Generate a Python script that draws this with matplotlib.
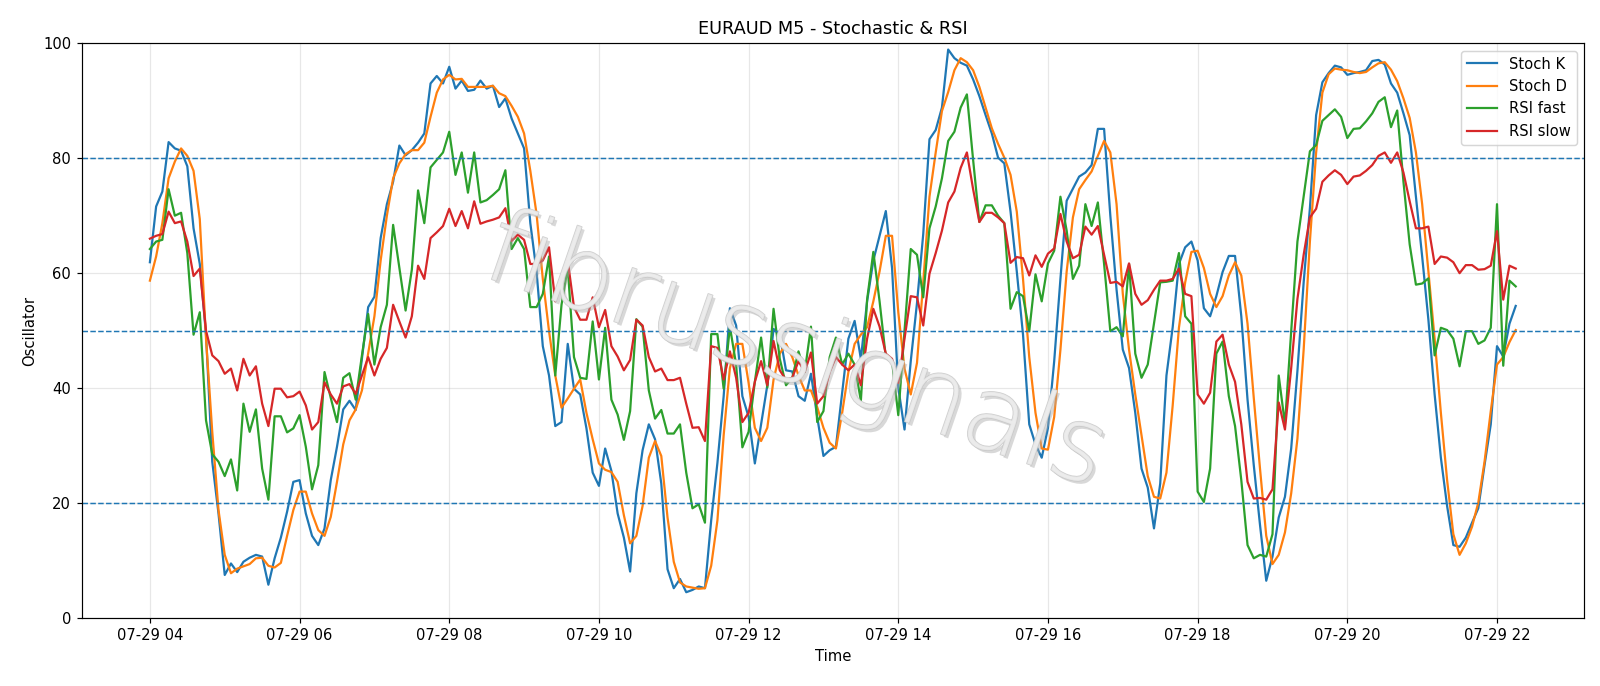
import numpy as np
import pandas as pd
import matplotlib
matplotlib.use("Agg")
import matplotlib.pyplot as plt
import matplotlib.dates as mdates
import matplotlib.patheffects as pe

# 5-minute bars, 07-29 04:00 -> 22:15
times = pd.date_range("2024-07-29 04:00", periods=220, freq="5min")

stoch_k = [
    61.9, 71.6, 74.2, 82.8, 81.7, 81.3, 78.6, 67.8, 61.6, 49.3,
    27.2, 18.2, 7.5, 9.5, 8.0, 9.8, 10.5, 11.0, 10.7, 5.8,
    10.4, 14.0, 18.5, 23.7, 24.0, 18.2, 14.3, 12.7, 15.6, 24.0,
    29.8, 36.3, 37.8, 36.2, 45.1, 54.1, 55.9, 66.1, 72.0, 75.9,
    82.2, 80.5, 81.4, 82.7, 84.3, 93.0, 94.3, 93.0, 95.9, 92.1,
    93.5, 91.7, 91.9, 93.5, 92.1, 92.6, 88.9, 90.4, 86.9, 84.3,
    81.7, 68.7, 60.3, 47.3, 42.2, 33.4, 34.1, 47.7, 39.9, 38.9,
    33.0, 25.3, 23.0, 29.5, 25.6, 18.2, 14.0, 8.1, 21.7, 29.2,
    33.7, 31.1, 23.4, 8.5, 5.2, 6.8, 4.5, 4.9, 5.5, 5.2,
    17.0, 27.0, 38.6, 53.9, 50.9, 38.6, 35.0, 26.9, 33.7, 40.5,
    50.3, 49.3, 43.1, 42.9, 38.6, 37.8, 42.5, 35.0, 28.2, 29.2,
    29.8, 39.2, 48.6, 51.7, 45.1, 55.1, 62.2, 66.5, 70.8, 60.9,
    40.1, 32.8, 44.7, 54.8, 66.8, 83.3, 84.9, 88.8, 98.9, 97.4,
    96.6, 96.1, 93.7, 90.8, 87.5, 84.3, 80.1, 79.1, 70.7, 60.3,
    49.3, 33.7, 30.2, 27.9, 33.1, 44.7, 59.0, 72.6, 74.7, 76.8,
    77.5, 78.8, 85.1, 85.1, 70.0, 57.1, 46.7, 43.5, 35.7, 26.0,
    22.7, 15.6, 23.4, 42.2, 50.6, 61.6, 64.5, 65.5, 62.2, 53.9,
    52.5, 56.0, 60.2, 63.0, 63.0, 52.5, 38.0, 26.6, 16.2, 6.5,
    10.7, 17.5, 21.1, 29.5, 43.0, 58.4, 71.3, 87.5, 93.2, 94.8,
    96.1, 95.8, 94.5, 94.8, 95.0, 95.3, 96.9, 97.1, 96.3, 93.0,
    91.4, 87.8, 84.0, 73.3, 62.9, 51.9, 38.9, 27.9, 19.5, 12.7,
    12.4, 14.0, 16.6, 19.1, 26.6, 33.7, 47.3, 45.5, 51.2, 54.3,
]

stoch_d = [
    58.7, 62.9, 68.7, 76.5, 79.4, 81.7, 80.4, 77.8, 69.4, 48.6,
    32.4, 18.8, 11.0, 7.8, 8.6, 9.0, 9.4, 10.4, 10.5, 9.1,
    8.8, 9.6, 14.3, 18.8, 22.0, 22.0, 18.2, 15.3, 14.3, 17.6,
    23.7, 30.2, 34.4, 36.3, 39.6, 46.0, 52.5, 62.2, 70.0, 76.5,
    79.1, 80.7, 81.4, 81.4, 82.7, 87.2, 91.4, 93.7, 94.5, 93.7,
    93.8, 92.4, 92.4, 92.4, 92.4, 92.6, 91.3, 90.8, 89.1, 87.2,
    84.3, 77.8, 70.3, 59.0, 49.9, 42.2, 36.6, 38.2, 39.9, 41.5,
    35.7, 31.1, 26.9, 25.8, 25.4, 23.7, 17.9, 13.0, 14.3, 19.5,
    27.9, 30.8, 28.2, 17.5, 9.8, 6.2, 5.5, 5.3, 5.1, 5.2,
    9.1, 17.0, 31.8, 43.5, 47.7, 47.7, 40.9, 33.1, 30.8, 33.1,
    41.5, 46.0, 47.7, 45.4, 42.2, 39.6, 39.6, 36.7, 33.1, 30.5,
    29.5, 35.7, 42.8, 47.7, 49.3, 50.6, 55.1, 60.3, 66.5, 66.5,
    53.2, 43.4, 38.9, 44.4, 58.4, 73.3, 81.0, 88.2, 91.5, 95.3,
    97.4, 96.7, 95.3, 92.4, 88.8, 85.2, 82.5, 80.1, 77.1, 70.7,
    59.0, 45.4, 35.7, 29.5, 29.3, 35.0, 46.7, 60.3, 69.7, 74.6,
    76.2, 77.7, 80.4, 83.0, 81.0, 72.0, 56.4, 46.7, 38.9, 31.8,
    24.7, 21.1, 20.8, 25.3, 37.0, 50.5, 58.4, 63.7, 63.9, 60.9,
    56.4, 54.1, 56.0, 59.6, 61.9, 59.6, 51.2, 38.3, 26.0, 14.3,
    9.4, 11.0, 14.9, 21.7, 31.2, 46.7, 65.5, 81.0, 91.4, 94.6,
    95.6, 95.4, 95.3, 95.0, 94.8, 95.0, 95.8, 96.5, 96.7, 95.4,
    93.4, 90.4, 87.0, 81.0, 72.0, 60.3, 48.6, 35.7, 24.0, 14.6,
    11.0, 13.0, 15.9, 20.1, 27.2, 36.0, 44.1, 45.4, 48.0, 50.1,
]

rsi_fast = [
    64.2, 65.5, 65.8, 74.6, 70.0, 70.5, 63.5, 49.3, 53.2, 34.4,
    28.5, 27.2, 24.7, 27.6, 22.2, 37.3, 32.4, 36.3, 26.0, 20.6,
    35.1, 35.1, 32.3, 33.0, 35.3, 29.8, 22.4, 26.6, 42.8, 38.3,
    34.1, 41.8, 42.6, 38.0, 45.7, 52.9, 44.1, 50.6, 54.5, 68.4,
    60.9, 53.5, 60.6, 74.4, 68.7, 78.4, 79.7, 81.0, 84.6, 77.1,
    81.0, 74.0, 81.0, 72.3, 72.7, 73.6, 74.6, 77.9, 64.2, 66.1,
    64.2, 54.1, 54.1, 56.4, 62.9, 42.2, 54.5, 60.9, 45.4, 41.8,
    41.6, 51.6, 41.5, 50.5, 38.0, 35.4, 31.0, 36.0, 52.0, 50.7,
    39.6, 34.7, 36.2, 32.1, 32.1, 33.7, 25.3, 19.1, 19.8, 16.6,
    49.4, 49.4, 39.9, 50.7, 44.1, 29.7, 32.4, 41.1, 48.8, 40.1,
    53.8, 45.1, 40.5, 41.8, 46.4, 42.8, 50.7, 34.1, 36.0, 45.4,
    48.8, 44.1, 46.0, 44.1, 37.8, 55.4, 63.7, 55.1, 45.4, 44.7,
    35.3, 50.0, 64.2, 63.2, 55.8, 67.8, 71.6, 76.5, 83.0, 84.6,
    88.8, 91.1, 79.7, 68.9, 71.8, 71.8, 70.0, 68.7, 53.8, 56.7,
    56.0, 49.9, 59.8, 55.1, 61.7, 63.9, 73.3, 67.4, 59.0, 61.3,
    72.0, 68.2, 72.3, 61.6, 49.9, 50.6, 49.0, 61.6, 46.0, 41.8,
    44.1, 51.2, 58.4, 58.5, 58.7, 63.5, 52.5, 51.2, 22.0, 20.2,
    26.0, 46.0, 48.1, 38.6, 33.4, 24.0, 12.7, 10.4, 11.0, 10.7,
    14.6, 42.2, 33.7, 49.9, 65.5, 73.3, 81.2, 82.3, 86.5, 87.5,
    88.5, 87.2, 83.5, 85.1, 85.2, 86.4, 87.8, 89.8, 90.6, 85.4,
    88.3, 75.9, 65.0, 58.0, 58.2, 59.1, 45.7, 50.5, 50.1, 48.6,
    43.8, 49.9, 49.9, 47.7, 48.3, 50.5, 72.0, 43.9, 58.7, 57.7,
]

rsi_slow = [
    66.0, 66.5, 66.8, 70.7, 68.7, 69.0, 65.5, 59.5, 60.8, 50.0,
    45.7, 44.7, 42.5, 43.4, 39.6, 45.1, 42.2, 43.8, 37.3, 33.4,
    39.9, 39.9, 38.4, 38.6, 39.4, 37.0, 32.8, 34.1, 41.0, 38.9,
    37.3, 40.3, 40.7, 39.0, 42.2, 45.4, 42.2, 45.1, 47.0, 54.5,
    51.6, 48.8, 52.5, 61.3, 59.0, 66.1, 67.1, 68.2, 71.2, 68.2,
    70.8, 67.8, 72.5, 68.6, 69.0, 69.3, 69.7, 71.3, 65.6, 66.7,
    65.8, 61.6, 61.6, 62.2, 64.5, 55.1, 59.0, 62.2, 54.1, 51.9,
    51.9, 55.8, 50.6, 53.6, 47.3, 45.5, 43.1, 44.9, 51.9, 50.9,
    45.4, 42.9, 43.4, 41.4, 41.4, 41.8, 37.3, 33.1, 33.2, 30.8,
    47.3, 47.0, 41.5, 46.4, 41.8, 34.1, 35.7, 41.1, 44.7, 40.5,
    48.2, 43.1, 41.4, 41.8, 44.7, 42.8, 46.2, 37.3, 38.6, 42.8,
    45.4, 44.1, 43.1, 44.1, 40.5, 48.6, 53.8, 50.7, 46.0, 45.1,
    40.9, 48.6, 56.0, 55.8, 50.9, 59.9, 63.5, 67.4, 72.3, 74.2,
    78.3, 81.0, 74.6, 68.9, 70.5, 70.5, 69.7, 68.7, 61.8, 62.8,
    62.6, 59.6, 63.1, 61.1, 63.4, 64.3, 70.3, 65.5, 62.6, 63.2,
    68.1, 66.7, 68.2, 63.2, 58.3, 58.5, 57.7, 61.7, 56.4, 54.5,
    55.3, 57.1, 58.7, 58.7, 59.0, 60.8, 56.4, 56.0, 38.9, 37.3,
    39.2, 48.1, 49.3, 44.1, 41.1, 33.7, 23.7, 20.8, 20.9, 20.6,
    22.4, 37.5, 32.8, 43.5, 55.5, 63.2, 69.7, 71.2, 75.9, 77.0,
    77.9, 77.1, 75.5, 76.8, 77.0, 77.8, 78.8, 80.4, 81.0, 79.2,
    81.0, 77.5, 72.5, 67.8, 67.8, 68.1, 61.6, 62.9, 62.7, 61.9,
    60.0, 61.4, 61.4, 60.6, 60.7, 61.3, 67.3, 55.4, 61.3, 60.8,
]

levels = [80, 50, 20]

DPI = 1600 / 15
fig, ax = plt.subplots(figsize=(15, 686 / DPI), dpi=DPI)
fig.subplots_adjust(left=0.051, right=0.99, top=0.937, bottom=0.099)

ax.plot(times, stoch_k, label="Stoch K", linewidth=1.5)
ax.plot(times, stoch_d, label="Stoch D", linewidth=1.5)
ax.plot(times, rsi_fast, label="RSI fast", linewidth=1.5)
ax.plot(times, rsi_slow, label="RSI slow", linewidth=1.5)

for lv in levels:
    ax.axhline(lv, linestyle="--", color="tab:blue", linewidth=1)

# watermark
ax.text(0.475, 0.46, "fibrussignals", transform=ax.transAxes, fontsize=70,
        fontweight="light", color="#ececec", alpha=0.8, rotation=-19,
        ha="center", va="center", zorder=5,
        path_effects=[pe.withSimplePatchShadow(offset=(2, -2), shadow_rgbFace="#aaaaaa", alpha=0.45),
                      pe.withStroke(linewidth=1.0, foreground="#c4c4c4")])

ax.set_ylim(0, 100)
ax.set_title("EURAUD M5 - Stochastic & RSI", fontsize=12)
ax.set_xlabel("Time")
ax.set_ylabel("Oscillator")
ax.xaxis.set_major_locator(mdates.HourLocator(byhour=range(0, 24, 2)))
ax.xaxis.set_major_formatter(mdates.DateFormatter("%m-%d %H"))
ax.grid(True, alpha=0.3)
ax.legend(loc="upper right")

fig.savefig("out.png", dpi=DPI)
